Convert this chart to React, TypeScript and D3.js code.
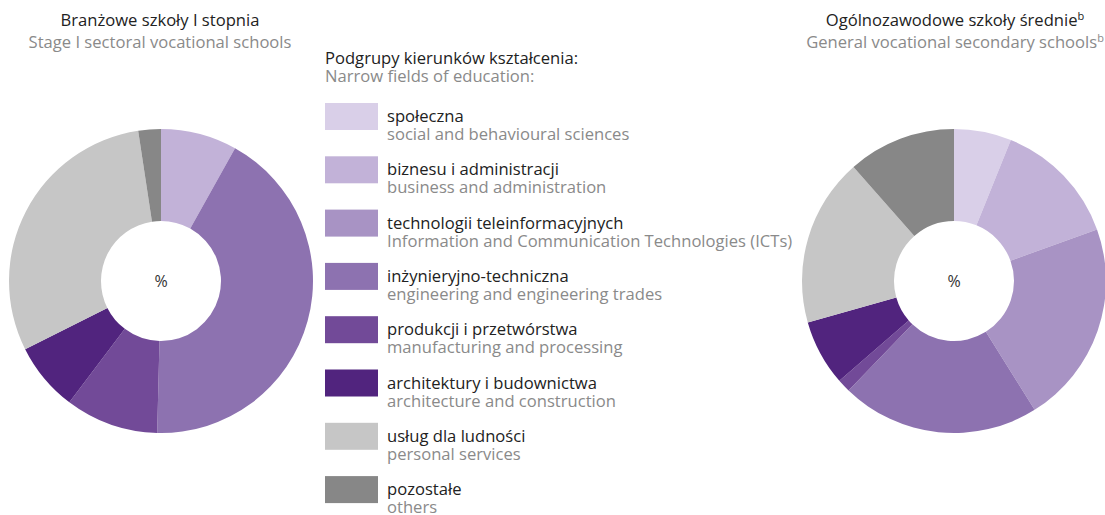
import React from "react";
import * as d3 from "d3";

const categoriesPl = [
  "społeczna",
  "biznesu i administracji",
  "technologii teleinformacyjnych",
  "inżynieryjno-techniczna",
  "produkcji i przetwórstwa",
  "architektury i budownictwa",
  "usług dla ludności",
  "pozostałe",
];
const categoriesEn = [
  "social and behavioural sciences",
  "business and administration",
  "Information and Communication Technologies (ICTs)",
  "engineering and engineering trades",
  "manufacturing and processing",
  "architecture and construction",
  "personal services",
  "others",
];
const colors = ["#d9cfe8", "#c2b2d8", "#a893c4", "#8d72b0", "#724a98", "#51247e", "#c6c6c6", "#878787"];

// shares in %
const sectoralValues = [0, 8.1, 0, 42.3, 9.9, 7.3, 30.0, 2.4];
const generalValues = [6.1, 13.4, 21.6, 21.1, 1.4, 7.0, 17.9, 11.5];

const W = 1105;
const H = 515;
const font = "'Open Sans', sans-serif";
const fs = 16.6;
const dark = "#222";
const grey = "#8a8a8a";

function Donut({ cx, cy, values }: { cx: number; cy: number; values: number[] }) {
  const pie = d3.pie<number>().sort(null).value((d) => d);
  const arc = d3.arc<d3.PieArcDatum<number>>().innerRadius(60).outerRadius(152);
  return (
    <g transform={`translate(${cx},${cy})`}>
      {pie(values).map((a, i) => (
        <path key={i} d={arc(a) || ""} fill={colors[i]} />
      ))}
      <text textAnchor="middle" y={6} fontSize={16} fill="#333">%</text>
    </g>
  );
}

export default function App() {
  const legendY = d3.scaleBand<number>().domain(d3.range(8)).range([103, 103 + 8 * 53.3]);
  return (
    <svg width={W} height={H} style={{ position: "absolute", left: 0, top: 0 }} fontFamily={font}>
      <text x={160} y={26} textAnchor="middle" fontSize={fs} fill={dark}>Branżowe szkoły I stopnia</text>
      <text x={160} y={48} textAnchor="middle" fontSize={fs} fill={grey}>Stage I sectoral vocational schools</text>

      <text x={955} y={26} textAnchor="middle" fontSize={fs} fill={dark}>
        Ogólnozawodowe szkoły średnie<tspan fontSize={11} dy={-6}>b</tspan>
      </text>
      <text x={955} y={48} textAnchor="middle" fontSize={fs} fill={grey}>
        General vocational secondary schools<tspan fontSize={11} dy={-6}>b</tspan>
      </text>

      <Donut cx={161} cy={281} values={sectoralValues} />
      <Donut cx={954} cy={281} values={generalValues} />

      <text x={325} y={64} fontSize={fs} fill={dark}>Podgrupy kierunków kształcenia:</text>
      <text x={325} y={82} fontSize={fs} fill={grey}>Narrow fields of education:</text>
      {categoriesPl.map((c, i) => {
        const y = legendY(i) || 0;
        return (
          <g key={c}>
            <rect x={325} y={y} width={53} height={27} fill={colors[i]} />
            <text x={387} y={y + 19} fontSize={fs} fill={dark}>{c}</text>
            <text x={387} y={y + 37} fontSize={fs} fill={grey}>{categoriesEn[i]}</text>
          </g>
        );
      })}
    </svg>
  );
}
